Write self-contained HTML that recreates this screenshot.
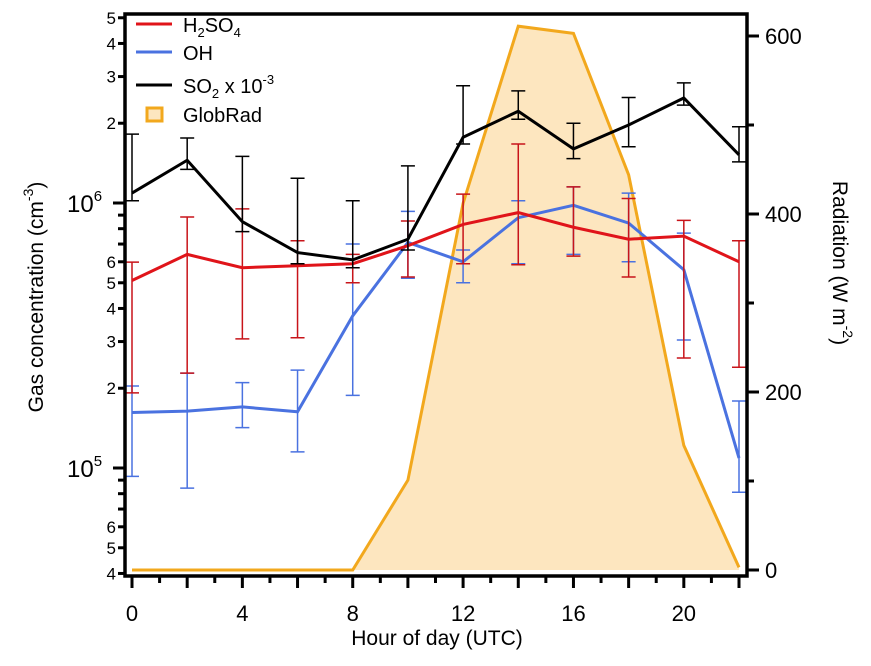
<!DOCTYPE html>
<html><head><meta charset="utf-8"><style>
body{margin:0;background:#fff;}
svg text{font-family:"Liberation Sans",Arial,sans-serif;}
</style></head><body>
<svg id="c" width="871" height="661" xmlns="http://www.w3.org/2000/svg"></svg>
<script>
const hours=[0,2,4,6,8,10,12,14,16,18,20,22];
const globRad=[0,0,0,0,0,101,412,611,603,444,140,3];
const h2so4=[5.1e5,6.4e5,5.7e5,5.8e5,5.9e5,6.9e5,8.3e5,9.2e5,8.1e5,7.3e5,7.5e5,6.0e5];
const h2so4Up=[5.98e5,8.85e5,9.5e5,7.2e5,6.4e5,8.55e5,1.08e6,1.67e6,1.15e6,1.04e6,8.6e5,7.2e5];
const h2so4Lo=[1.92e5,2.28e5,3.07e5,3.1e5,5.0e5,5.26e5,5.9e5,5.85e5,6.3e5,5.26e5,2.6e5,2.4e5];
const oh=[1.62e5,1.64e5,1.7e5,1.63e5,3.75e5,7.1e5,6.0e5,8.8e5,9.8e5,8.4e5,5.6e5,1.09e5];
const ohUp=[2.04e5,2.28e5,2.1e5,2.34e5,7.0e5,9.3e5,6.65e5,1.02e6,1.15e6,1.09e6,7.7e5,1.79e5];
const ohLo=[9.3e4,8.4e4,1.42e5,1.15e5,1.88e5,5.2e5,5.0e5,5.9e5,6.4e5,6.0e5,3.04e5,8.1e4];
const so2=[1.09e6,1.45e6,8.5e5,6.5e5,6.1e5,7.3e5,1.77e6,2.22e6,1.6e6,1.97e6,2.49e6,1.52e6];
const so2Up=[1.82e6,1.76e6,1.5e6,1.24e6,1.02e6,1.38e6,2.77e6,2.65e6,2.0e6,2.5e6,2.84e6,1.94e6];
const so2Lo=[1.02e6,1.34e6,7.8e5,5.9e5,5.7e5,6.65e5,1.67e6,2.07e6,1.47e6,1.63e6,2.34e6,1.43e6];
const xTicks=[0,4,8,12,16,20];
const radTicks=[0,200,400,600];

const NS="http://www.w3.org/2000/svg";
const svg=document.getElementById('c');
const L=125,R=747,T=14,B=576;
const X=h=>132+h*(739-132)/22;
const Y=v=>203-(Math.log10(v)-6)*265;
const YR=r=>570-r*0.89;
function mk(tag,a,parent){const e=document.createElementNS(NS,tag);for(const k in a)e.setAttribute(k,a[k]);(parent||svg).appendChild(e);return e;}
function txt(s,a,parent){const e=mk('text',a,parent);e.innerHTML=s;return e;}

let d='M'+X(hours[0])+','+YR(0);
hours.forEach((h,i)=>{d+=' L'+X(h)+','+YR(globRad[i]);});
d+=' L'+X(hours[hours.length-1])+','+YR(0)+' Z';
const area=mk('path',{d:d,fill:'#fde6bf',stroke:'none'});


const gl=mk('polyline',{points:hours.map((h,i)=>X(h)+','+YR(globRad[i])).join(' '),fill:'none',stroke:'#f2a81d','stroke-width':3});



function series(name,vals,up,lo,col,ecol,ew){
  const g=mk('g',{});
  
  
  hours.forEach((h,i)=>{
    const x=X(h);
    const eb=mk('path',{d:`M${x},${Y(up[i])}V${Y(lo[i])}M${x-7},${Y(up[i])}h14M${x-7},${Y(lo[i])}h14`,stroke:ecol,'stroke-width':ew,fill:'none'},g);
    
    
  });
  const ln=mk('polyline',{points:hours.map((h,i)=>X(h)+','+Y(vals[i])).join(' '),fill:'none',stroke:col,'stroke-width':3},g);
  
  
}
series('oh',oh,ohUp,ohLo,'#4a72e0','#4a72e0',1.5);
series('h2so4',h2so4,h2so4Up,h2so4Lo,'#e0141a','#c8141a',1.5);
series('so2',so2,so2Up,so2Lo,'#000','#000',1.5);

const fr=mk('rect',{x:L,y:T,width:R-L,height:B-T,fill:'none',stroke:'#000','stroke-width':3.5});



const lt=mk('g',{});


[1e4,1e5,1e6].forEach(dec=>{for(let m=1;m<10;m++){const v=dec*m;const y=Y(v);if(y<T-1||y>B+1)continue;
  mk('line',{x1:L-(m==1?12:7),x2:L,y1:y,y2:y,stroke:'#000','stroke-width':3},lt);
  if(m==1){txt(`10<tspan font-size="15" dy="-11">${Math.log10(v)}</tspan>`,{x:L-58,y:y+9,'font-size':24},lt);}
  else if((dec==1e4&&m>=4&&m<=6)||(dec==1e5&&m>=2&&m<=6)||(dec==1e6&&m<=5)){txt(''+m,{x:L-9,y:y+6,'font-size':17,'text-anchor':'end'},lt);}
}});
const bt=mk('g',{});


for(let h=0;h<=22;h++){mk('line',{x1:X(h),x2:X(h),y1:B,y2:B+(h%2==0?12:7),stroke:'#000','stroke-width':3},bt);}
xTicks.forEach(h=>txt(''+h,{x:X(h),y:621,'font-size':22,'text-anchor':'middle'},bt));
const rt=mk('g',{});


for(let r=0;r<=600;r+=100){mk('line',{x1:R,x2:R+(r%200==0?12:7),y1:YR(r),y2:YR(r),stroke:'#000','stroke-width':3},rt);}
radTicks.forEach(r=>txt(''+r,{x:765,y:YR(r)+8,'font-size':22},rt));

txt('Gas concentration (cm<tspan font-size="14" dy="-10">-3</tspan><tspan dy="10">)</tspan>',{x:0,y:0,'font-size':21,'text-anchor':'middle',transform:'translate(43,297) rotate(-90)',});
txt('Radiation (W m<tspan font-size="14" dy="-10">-2</tspan><tspan dy="10">)</tspan>',{x:0,y:0,'font-size':21,'text-anchor':'middle',transform:'translate(833,263) rotate(90)',});
txt('Hour of day (UTC)',{x:437,y:645,'font-size':21,'text-anchor':'middle',});

const lg=mk('g',{});


mk('line',{x1:136,x2:172,y1:24,y2:24,stroke:'#e0141a','stroke-width':3},lg);
txt('H<tspan font-size="13" dy="5">2</tspan><tspan dy="-5">SO</tspan><tspan font-size="13" dy="5">4</tspan>',{x:183,y:32,'font-size':20},lg);
mk('line',{x1:136,x2:172,y1:52,y2:52,stroke:'#4a72e0','stroke-width':3},lg);
txt('OH',{x:183,y:60,'font-size':20},lg);
mk('line',{x1:136,x2:172,y1:85,y2:85,stroke:'#000','stroke-width':3},lg);
txt('SO<tspan font-size="13" dy="5">2</tspan><tspan dy="-5"> x 10</tspan><tspan font-size="13" dy="-9">-3</tspan>',{x:183,y:93,'font-size':20},lg);
mk('rect',{x:147,y:108,width:15,height:13,fill:'#fde6bf',stroke:'#f2a81d','stroke-width':3},lg);
txt('GlobRad',{x:183,y:122,'font-size':20},lg);
</script>
</body></html>
